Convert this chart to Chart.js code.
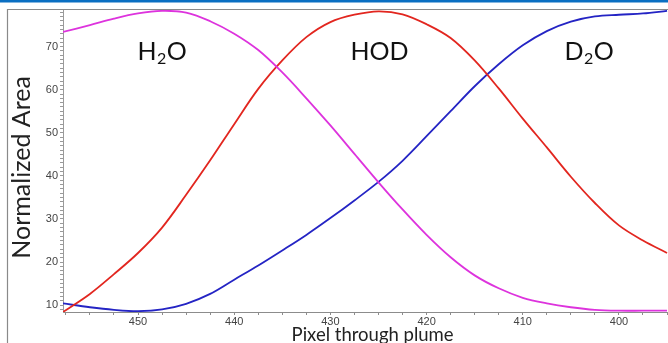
<!DOCTYPE html>
<html>
<head>
<meta charset="utf-8">
<script src="https://cdn.jsdelivr.net/npm/chart.js@4/dist/chart.umd.min.js"></script>
<style>
  html, body { margin: 0; padding: 0; background: #fff; }
  #wrap { width: 668px; height: 343px; position: relative; }
</style>
</head>
<body>
<div id="wrap"><canvas id="c" width="668" height="343"></canvas></div>
<script>
// ---- Data ----
const pixels = [457.8, 455, 452.5, 450, 447.5, 445, 442.5, 440, 437.5, 435, 432.5, 430, 427.5, 425, 422.5, 420, 417.5, 415, 412.5, 410, 407.5, 405, 402.5, 400, 397.5, 395];
const h2oArea = [73.4, 75.0, 76.5, 77.7, 78.3, 77.9, 75.9, 73.0, 69.2, 64.0, 58.0, 51.7, 45.1, 38.5, 32.2, 26.3, 21.1, 16.9, 13.9, 11.7, 10.4, 9.5, 8.9, 8.7, 8.7, 8.7];
const hodArea = [8.4, 12.6, 17.2, 22.1, 28.0, 35.6, 43.6, 52.0, 60.2, 66.8, 72.2, 75.7, 77.4, 78.2, 77.5, 75.2, 72.0, 66.8, 60.3, 53.3, 46.6, 39.8, 33.7, 28.5, 25.0, 22.1];
const d2oArea = [10.4, 9.5, 8.9, 8.6, 9.0, 10.3, 12.6, 15.9, 19.2, 22.7, 26.3, 30.2, 34.3, 38.6, 43.5, 49.2, 55.0, 60.8, 65.9, 70.3, 73.6, 75.8, 77.0, 77.4, 77.7, 78.3];
const xTickLabels = [400, 410, 420, 430, 440, 450];
const yTickLabels = [10, 20, 30, 40, 50, 60, 70];
// Species labels: [main, subscript, rest, pixel position, value at baseline]
const speciesLabels = [
  { main: 'H', sub: '2', rest: 'O', px: 447.5, val: 66.8 },
  { main: 'HOD', sub: '', rest: '', px: 424.9, val: 66.8 },
  { main: 'D', sub: '2', rest: 'O', px: 403.1, val: 66.8 }
];

const toXY = (arr) => arr.map((v, i) => ({ x: pixels[i], y: v }));

const framePlugin = {
  id: 'frame',
  beforeDraw(chart) {
    const ctx = chart.ctx;
    ctx.save();
    ctx.fillStyle = '#ffffff';
    ctx.fillRect(0, 0, chart.width, chart.height);
    // blue bar at top
    ctx.fillStyle = '#0A6FC2';
    ctx.fillRect(0, 0, chart.width, 2.5);
    // outer frame (top + left)
    ctx.strokeStyle = '#8a8a8a';
    ctx.lineWidth = 1.2;
    ctx.beginPath();
    ctx.moveTo(7.5, chart.height);
    ctx.lineTo(7.5, 9.5);
    ctx.lineTo(chart.width, 9.5);
    ctx.stroke();
    ctx.restore();
  },
  afterDatasetsDraw(chart) {
    const ctx = chart.ctx;
    const xs = chart.scales.x, ys = chart.scales.y;
    ctx.save();
    ctx.fillStyle = '#111';
    ctx.textBaseline = 'alphabetic';
    const big = 25, small = 16;
    speciesLabels.forEach(l => {
      ctx.font = big + 'px Lato';
      const w1 = ctx.measureText(l.main).width;
      const w3 = ctx.measureText(l.rest).width;
      ctx.font = small + 'px Lato';
      const w2 = l.sub ? ctx.measureText(l.sub).width + 1 : 0;
      const total = w1 + w2 + w3;
      const cx = xs.getPixelForValue(l.px);
      const by = ys.getPixelForValue(l.val);
      let x = cx - total / 2;
      ctx.font = big + 'px Lato';
      ctx.fillText(l.main, x, by);
      x += w1;
      if (l.sub) {
        ctx.font = small + 'px Lato';
        ctx.fillText(l.sub, x + 0.5, by + 4);
        x += w2;
      }
      ctx.font = big + 'px Lato';
      ctx.fillText(l.rest, x, by);
    });
    ctx.restore();
  }
};

const ds = (label, data, color) => ({
  label, data: toXY(data), borderColor: color, backgroundColor: color,
  borderWidth: 1.8, pointRadius: 0, fill: false, tension: 0.35
});

new Chart(document.getElementById('c'), {
  type: 'line',
  data: {
    datasets: [
      ds('H2O', h2oArea, '#DD33DD'),
      ds('HOD', hodArea, '#E2261F'),
      ds('D2O', d2oArea, '#2424C4')
    ]
  },
  options: {
    responsive: false,
    animation: false,
    events: [],
    layout: { padding: { top: 10, right: 0, left: 0, bottom: 0 } },
    plugins: { legend: { display: false }, tooltip: { enabled: false } },
    scales: {
      x: {
        type: 'linear',
        reverse: true,
        min: 394.9,
        max: 457.8,
        afterFit(scale) { scale.height = 31; },
        border: { display: true, color: '#8c8c8c', width: 1 },
        grid: { display: true, drawOnChartArea: false, drawTicks: true, tickLength: 3, color: '#8c8c8c' },
        ticks: {
          stepSize: 2.5, autoSkip: false, includeBounds: false, maxRotation: 0, padding: 0,
          color: '#444', font: { family: 'Liberation Sans', size: 11 },
          callback: (v) => xTickLabels.includes(v) ? String(v) : ''
        },
        title: {
          display: true, text: '   Pixel through plume', color: '#222',
          font: { family: 'Lato', size: 18.5 }, padding: { top: 0, bottom: -3 }
        }
      },
      y: {
        type: 'linear',
        min: 8.4,
        max: 78.5,
        afterFit(scale) { scale.width = 63; },
        border: { display: true, color: '#9a9a9a', width: 1 },
        grid: { display: true, drawOnChartArea: false, drawTicks: true, tickLength: 3, color: '#9a9a9a' },
        ticks: {
          stepSize: 1, autoSkip: false, includeBounds: false, padding: 2,
          color: '#444', font: { family: 'Liberation Sans', size: 11 },
          callback: (v) => yTickLabels.includes(v) ? String(v) : ''
        },
        title: {
          display: true, text: 'Normalized Area  ', color: '#222',
          font: { family: 'Lato', size: 25 }, padding: { top: 7, bottom: 0 }
        }
      }
    }
  },
  plugins: [framePlugin]
});
</script>
</body>
</html>
